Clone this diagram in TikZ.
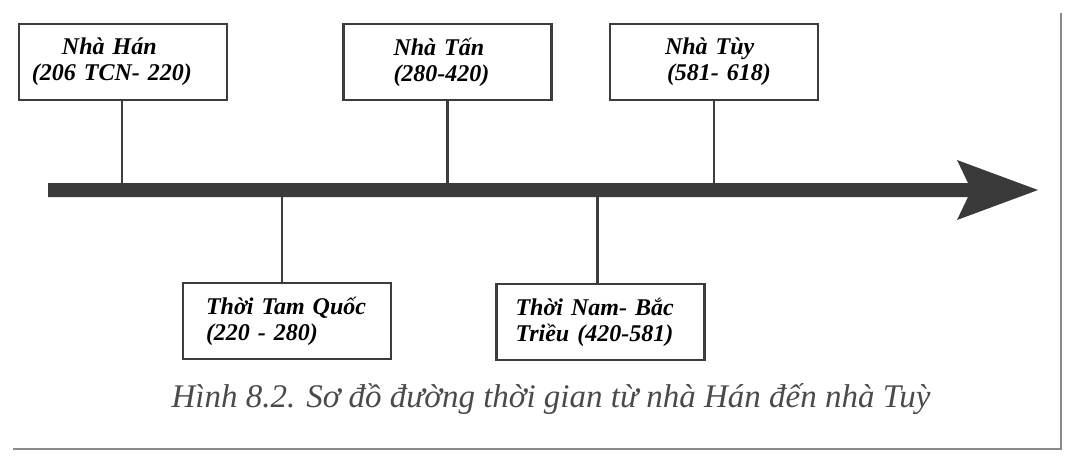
\documentclass[tikz,border=0pt]{standalone}
\usepackage{fontspec}
\setmainfont{Liberation Serif}
\newfontfamily\boxfont{Liberation Serif}
\newfontfamily\capfont{Liberation Serif}
\definecolor{barcol}{HTML}{3A3A3A}
\definecolor{boxline}{HTML}{3C3C3C}
\definecolor{capcol}{HTML}{4A4A4A}
\definecolor{framecol}{HTML}{8A8A8A}
\newcommand\tltext[4]{\hspace*{#1pt}#3\\\hspace*{#2pt}#4}
\tikzset{
  tlbox/.style={draw=boxline, line width=2.6pt, fill=white,
    minimum width=208pt, minimum height=76pt, text width=208pt,
    inner xsep=0pt, inner ysep=0pt, align=left,
    font=\boxfont\bfseries\itshape\fontsize{24}{26}\selectfont},
  conn/.style={draw=boxline, line width=2.2pt},
  capstyle/.style={text=capcol, inner sep=0pt,
    font=\capfont\itshape\fontsize{33}{36}\selectfont},
  framestyle/.style={draw=framecol, line width=2pt}
}
\begin{document}
\begin{tikzpicture}[x=1pt,y=-1pt]
\useasboundingbox (0,0) rectangle (1071,459);
% frame shadow
\draw[framestyle] (1061,13) -- (1061,449) -- (13,449);
% timeline arrow
\fill[barcol] (48,183) -- (968,183) -- (957,160) -- (1038,190) -- (957,220) -- (968,197) -- (48,197) -- cycle;
\coordinate (bartop) at (0,183);
\coordinate (barbot) at (0,197);
% boxes
\node[tlbox] (han) at (123,62) {\tltext{43}{13}{Nhà Hán}{(206 TCN- 220)}};
\node[tlbox] (tan) at (447.5,62) {\tltext{50}{50}{Nhà Tấn}{(280-420)}};
\node[tlbox] (tuy) at (714,62) {\tltext{55}{57}{Nhà Tùy}{(581- 618)}};
\node[tlbox] (tam) at (287,321) {\tltext{23}{23}{Thời Tam Quốc}{(220 - 280)}};
\node[tlbox] (nam) at (600.5,322) {\tltext{19}{19}{Thời Nam- Bắc}{Triều (420-581)}};
% connectors
\draw[conn] ([xshift=-1pt]han.south) -- ([xshift=-1pt]han.south |- bartop);
\draw[conn] (tan.south) -- (tan.south |- bartop);
\draw[conn] (tuy.south) -- (tuy.south |- bartop);
\draw[conn] ([xshift=-5pt]tam.north) -- ([xshift=-5pt]tam.north |- barbot);
\draw[conn] ([xshift=-3pt]nam.north) -- ([xshift=-3pt]nam.north |- barbot);
% caption
\node[capstyle, anchor=base] (cap) at (551,407) {Hình 8.2. Sơ đồ đường thời gian từ nhà Hán đến nhà Tuỳ};
\end{tikzpicture}
\end{document}
